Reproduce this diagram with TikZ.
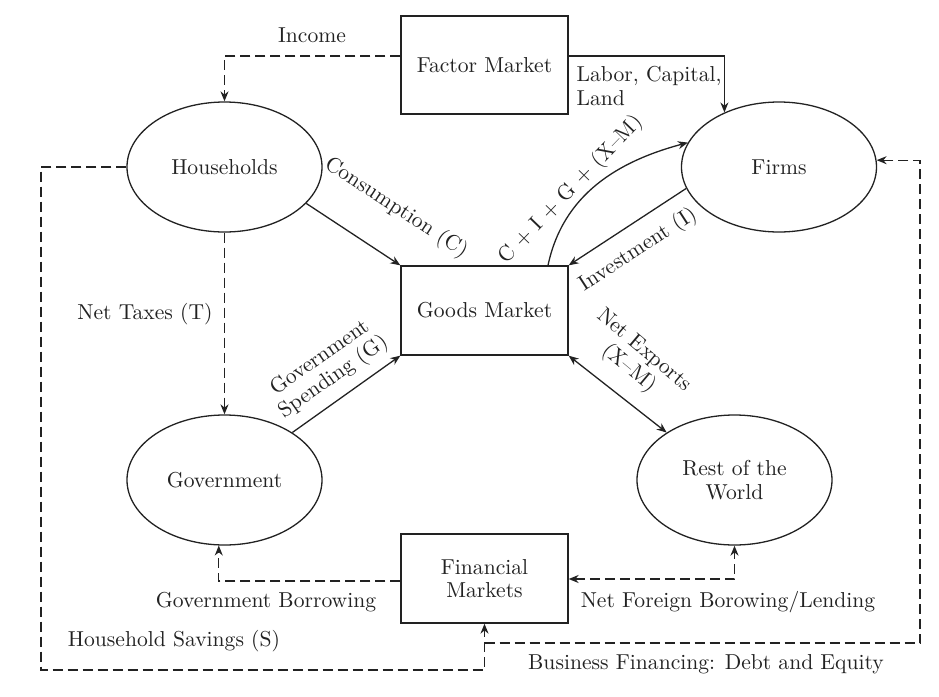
\documentclass[tikz,border=0pt]{standalone}
\usepackage{fontspec}
\usetikzlibrary{shapes.geometric,arrows.meta,calc}
\definecolor{ink}{HTML}{222222}
\begin{document}
\begin{tikzpicture}[x=0.5pt,y=-0.5pt,
  font=\fontsize{10.8}{11.8}\selectfont,
  line width=0.65pt, draw=ink, text=ink,
  ell/.style={ellipse,draw,minimum width=97.5pt,minimum height=65pt,inner sep=0pt,align=center},
  box/.style={rectangle,draw,minimum width=83.5pt,inner sep=0pt,align=center},
  flow/.style={-{Stealth[length=5pt,width=4pt]}},
  bflow/.style={{Stealth[length=5pt,width=4pt]}-{Stealth[length=5pt,width=4pt]}},
  dashy/.style={dash pattern=on 5pt off 2.5pt},
  lbl/.style={inner sep=0pt,align=center}]
\useasboundingbox (0,0) rectangle (939,697);

% nodes
\node[box,minimum height=49pt] (factor) at (484.5,65) {Factor Market};
\node[box,minimum height=44.5pt] (goods) at (484.5,310.5) {Goods Market};
\node[box,minimum height=44.5pt] (fin) at (484.5,578.5) {Financial\\Markets};
\node[ell] (hh) at (224.5,167) {Households};
\node[ell] (firms) at (779,167) {Firms};
\node[ell] (gov) at (224.5,480) {Government};
\node[ell] (row) at (734.5,480) {Rest of the\\World};

% helper coordinates
\coordinate (sl) at (41,670);
\coordinate (br) at (920,643);

% connectors
\draw[flow,dashy] (factor.west |- 0,56) -| (hh.north);
\draw[flow] (factor.east |- 0,56) -| (firms.135);
\draw[flow] (hh.-24) -- (goods.north west);
\draw[flow] (gov.35) -- (goods.south west);
\draw[flow] (firms.193) -- (goods.north east);
\draw[flow] (548,0 |- goods.north) to[out=78,in=195] (firms.165);
\draw[bflow] (goods.south east) -- (row.145);
\draw[flow,dashy] (hh.south) -- (gov.north);
\draw[flow,dashy] (fin.west |- 0,581) -| (gov.265);
\draw[bflow,dashy] (fin.east |- 0,579) -| (row.south);
\draw[flow,dashy] (hh.west) -| (sl) -| (fin.south);
\draw[flow,dashy] (fin.south |- br) -- (br) |- (firms.4);

% labels
\node[lbl] (inc) at (312,35) {Income};
\node[lbl,align=left,anchor=west] (lcl) at (576,86) {Labor, Capital,\\Land};
\node[lbl,rotate=-33] (cons) at (396,208) {Consumption (C)};
\node[lbl,rotate=35] (gs) at (327,368) {Government\\Spending (G)};
\node[lbl,rotate=46] (cig) at (571,190) {C + I + G + (X--M)};
\node[lbl,rotate=33] (inv) at (638,250) {Investment (I)};
\node[lbl,rotate=-40] (nx) at (636,360) {Net Exports\\(X--M)};
\node[lbl] (tax) at (145,314) {Net Taxes (T)};
\node[lbl] (gb) at (266,602) {Government Borrowing};
\node[lbl] (nf) at (728,602) {Net Foreign Borowing/Lending};
\node[lbl] (hs) at (174,641) {Household Savings (S)};
\node[lbl] (bf) at (706,664) {Business Financing: Debt and Equity};
\end{tikzpicture}
\end{document}
